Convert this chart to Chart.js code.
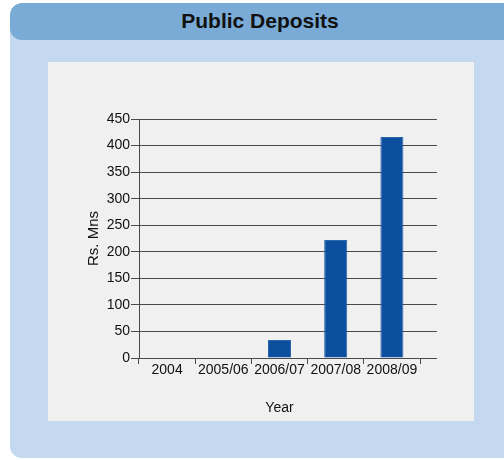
<!DOCTYPE html>
<html>
<head>
<meta charset="utf-8">
<title>Public Deposits</title>
<script src="https://cdn.jsdelivr.net/npm/chart.js@4/dist/chart.umd.min.js"></script>
<style>
    html, body {
        margin: 0;
        padding: 0;
        background: #ffffff;
        font-family: 'Liberation Sans', sans-serif;
    }
    .frame {
        position: absolute;
        left: 10px;
        top: 3px;
        width: 510px;
        height: 455px;
        background: #c4d9ef;
        border-radius: 12px;
        overflow: hidden;
    }
    .header {
        height: 37px;
        background: #7aabd6;
        border-radius: 12px;
        text-align: center;
        line-height: 35px;
        font-size: 21px;
        font-weight: bold;
        color: #111111;
        padding-right: 10px;
    }
    .panel {
        position: absolute;
        left: 38px;
        top: 59px;
        width: 426px;
        height: 359px;
        background: #f0f0f0;
    }
</style>
</head>
<body>
<div class="frame">
    <div class="header">Public Deposits</div>
    <div class="panel">
        <canvas id="depositsChart" width="426" height="359"></canvas>
    </div>
</div>
<script>
const years = ['2004', '2005/06', '2006/07', '2007/08', '2008/09'];
const deposits = [0, 0, 34, 222, 416];
const yTicks = [0, 50, 100, 150, 200, 250, 300, 350, 400, 450];

const lineColor = '#4a4a4a';
const textColor = '#111111';
const fontFamily = "'Liberation Sans', sans-serif";

// same pixel snapping Chart.js uses for 1px grid lines
function alignPixel(p) {
    return Math.round(p - 0.5) + 0.5;
}

// horizontal grid lines run a little past the last category
const extendGrid = {
    id: 'extendGrid',
    afterDraw(chart) {
        const ctx = chart.ctx;
        const area = chart.chartArea;
        const y = chart.scales.y;
        ctx.save();
        ctx.strokeStyle = lineColor;
        ctx.lineWidth = 1;
        yTicks.forEach(v => {
            const py = alignPixel(y.getPixelForValue(v));
            ctx.beginPath();
            ctx.moveTo(area.right, py);
            ctx.lineTo(area.right + 17, py);
            ctx.stroke();
        });
        ctx.restore();
    }
};

const ctx = document.getElementById('depositsChart').getContext('2d');
new Chart(ctx, {
    type: 'bar',
    data: {
        labels: years,
        datasets: [{
            label: 'Public Deposits',
            data: deposits,
            backgroundColor: '#0d4f9f',
            borderColor: '#2b66ad',
            borderWidth: 1,
            categoryPercentage: 1,
            barPercentage: 0.41
        }]
    },
    options: {
        responsive: false,
        animation: false,
        layout: {
            padding: { left: 37, top: 57, right: 54, bottom: 0 }
        },
        plugins: {
            legend: { display: false },
            tooltip: { enabled: false }
        },
        scales: {
            x: {
                offset: true,
                grid: {
                    offset: true,
                    drawOnChartArea: false,
                    drawTicks: true,
                    tickLength: 6,
                    color: lineColor
                },
                border: { color: lineColor, width: 1 },
                ticks: {
                    color: textColor,
                    padding: -2,
                    autoSkip: false,
                    maxRotation: 0,
                    minRotation: 0,
                    font: { family: fontFamily, size: 14 }
                },
                title: {
                    display: true,
                    text: 'Year',
                    color: textColor,
                    padding: { top: 12 },
                    font: { family: fontFamily, size: 14 }
                },
                afterFit(scale) {
                    scale.height = 63;
                }
            },
            y: {
                min: 0,
                max: 450,
                afterBuildTicks(scale) {
                    scale.ticks = yTicks.map(v => ({ value: v }));
                },
                grid: {
                    color: lineColor,
                    drawTicks: true,
                    tickLength: 8
                },
                border: { color: lineColor, width: 1 },
                ticks: {
                    color: textColor,
                    padding: 1,
                    font: { family: fontFamily, size: 14 }
                },
                title: {
                    display: true,
                    text: 'Rs. Mns',
                    color: textColor,
                    padding: { top: 0, bottom: 0 },
                    font: { family: fontFamily, size: 15 }
                },
                afterFit(scale) {
                    scale.width = 54;
                }
            }
        }
    },
    plugins: [extendGrid]
});
</script>
</body>
</html>
